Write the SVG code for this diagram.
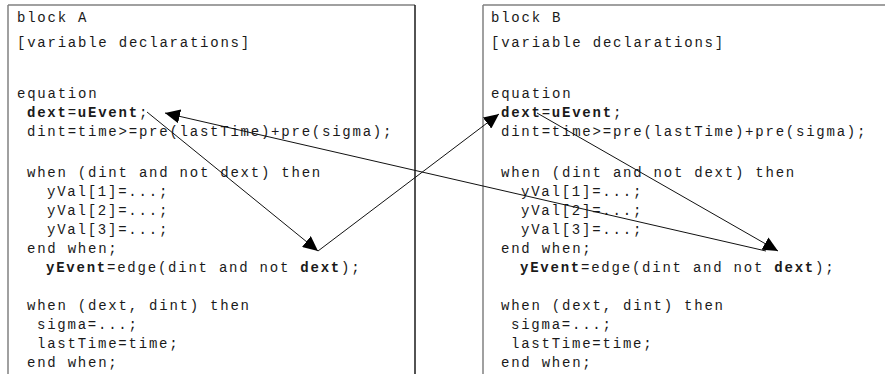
<svg xmlns="http://www.w3.org/2000/svg" width="885" height="374" viewBox="0 0 885 374">
<style>
.frame{fill:none;stroke:#808080;stroke-width:1.5}
.edge{fill:none;stroke:#1a1a1a;stroke-width:1.5}
.code{font-family:"Liberation Mono","Courier New",monospace;font-size:14px;letter-spacing:1.77px;fill:#1a1a1a}
.b{font-weight:bold}
.conn{fill:none;stroke:#111;stroke-width:1}
</style>
<defs>
<marker id="ah" markerUnits="userSpaceOnUse" markerWidth="16" markerHeight="14" refX="15" refY="7" orient="auto" viewBox="0 0 16 14">
<path d="M0,0 L15,7 L0,14 z" fill="#000"/>
</marker>
</defs>
<rect width="885" height="374" fill="#fff"/>
<g id="blockA">
<line class="frame" x1="8" y1="5" x2="415" y2="5"/>
<line class="frame" x1="8" y1="5" x2="8" y2="374"/>
<line class="edge" x1="415" y1="5" x2="415" y2="374"/>
<text class="code" x="17" y="22">block A</text>
<text class="code" x="17" y="47">[variable declarations]</text>
<text class="code" x="17" y="98">equation</text>
<text class="code" x="27" y="117"><tspan class="b">dext</tspan>=<tspan class="b">uEvent</tspan>;</text>
<text class="code" x="27" y="136">dint=time&gt;=pre(lastTime)+pre(sigma);</text>
<text class="code" x="27" y="177">when (dint and not dext) then</text>
<text class="code" x="47" y="196">yVal[1]=...;</text>
<text class="code" x="47" y="215">yVal[2]=...;</text>
<text class="code" x="47" y="234">yVal[3]=...;</text>
<text class="code" x="27" y="253">end when;</text>
<text class="code" x="46" y="272"><tspan class="b">yEvent</tspan>=edge(dint and not <tspan class="b">dext</tspan>);</text>
<text class="code" x="27" y="310">when (dext, dint) then</text>
<text class="code" x="37" y="329">sigma=...;</text>
<text class="code" x="37" y="348">lastTime=time;</text>
<text class="code" x="27" y="367">end when;</text>
</g>
<g id="blockB">
<line class="frame" x1="483" y1="5" x2="885" y2="5"/>
<line class="frame" x1="483" y1="5" x2="483" y2="374"/>
<text class="code" x="491" y="22">block B</text>
<text class="code" x="491" y="47">[variable declarations]</text>
<text class="code" x="491" y="98">equation</text>
<text class="code" x="501" y="117"><tspan class="b">dext</tspan>=<tspan class="b">uEvent</tspan>;</text>
<text class="code" x="501" y="136">dint=time&gt;=pre(lastTime)+pre(sigma);</text>
<text class="code" x="501" y="177">when (dint and not dext) then</text>
<text class="code" x="521" y="196">yVal[1]=...;</text>
<text class="code" x="521" y="215">yVal[2]=...;</text>
<text class="code" x="521" y="234">yVal[3]=...;</text>
<text class="code" x="501" y="253">end when;</text>
<text class="code" x="520" y="272"><tspan class="b">yEvent</tspan>=edge(dint and not <tspan class="b">dext</tspan>);</text>
<text class="code" x="501" y="310">when (dext, dint) then</text>
<text class="code" x="511" y="329">sigma=...;</text>
<text class="code" x="511" y="348">lastTime=time;</text>
<text class="code" x="501" y="367">end when;</text>
</g>
<g id="connectors">
<line class="conn" x1="147" y1="112" x2="318" y2="251" marker-end="url(#ah)"/>
<line class="conn" x1="318" y1="251" x2="499" y2="114" marker-end="url(#ah)"/>
<line class="conn" x1="537" y1="113" x2="778" y2="251" marker-end="url(#ah)"/>
<line class="conn" x1="766" y1="251" x2="165" y2="113" marker-end="url(#ah)"/>
</g>
</svg>
